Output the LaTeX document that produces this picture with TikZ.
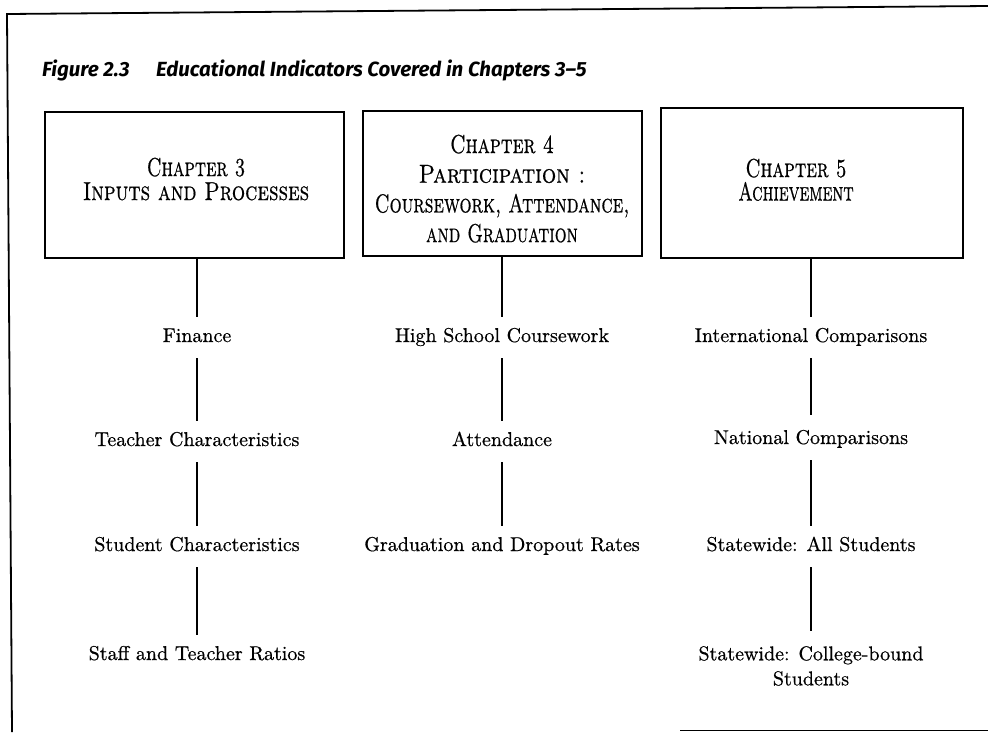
\documentclass[tikz,border=0pt]{standalone}
\usepackage{fontspec}
\newfontfamily\titlefont{Fira Sans}
\newfontfamily\heavyfont{lmroman10-regular.otf}[FakeBold=0.6, SmallCapsFont=lmromancaps10-regular.otf, SmallCapsFeatures={FakeBold=0.7}]
\begin{document}
\begin{tikzpicture}[x=1pt,y=-1pt,
  frameline/.style={line width=1.8pt},
  chapbox/.style={draw, line width=1.5pt, inner sep=0pt},
  head/.style={anchor=north, inner sep=0pt, align=center},
  item/.style={anchor=base, inner sep=0pt, text height=14pt, text depth=4pt, font=\heavyfont\fontsize{20}{24}\selectfont},
  item2/.style={anchor=north, inner sep=0pt, align=center, font=\heavyfont\fontsize{20}{25}\selectfont},
  conn/.style={line width=1.1pt}]
\useasboundingbox (0,0) rectangle (988,732);
% frame
\draw[frameline] (988,6) -- (7,14) -- (12,732);
\draw[frameline] (680,730.5) -- (988,730.5);
% title
\node[anchor=base west, inner sep=0pt, font=\titlefont\bfseries\itshape\fontsize{20.5}{24}\selectfont] (title) at (42,76) {Figure 2.3\hspace{1.3em}Educational Indicators Covered in Chapters 3–5};
% chapter boxes
\node[chapbox, minimum width=299pt, minimum height=146pt] (b1) at (194.5,185) {};
\node[chapbox, minimum width=279pt, minimum height=145pt] (b2) at (502.5,183.5) {};
\node[chapbox, minimum width=302pt, minimum height=150pt] (b3) at (812,183) {};
\node[head, font=\heavyfont\fontsize{26}{24}\selectfont\scshape] (h1) at (196,157.5)
  {\scalebox{0.72}[1]{Chapter 3}\\\scalebox{0.8}[1]{Inputs and Processes}};
\node[head, font=\heavyfont\fontsize{26}{29.7}\selectfont\scshape] (h2) at (502,134.5)
  {\scalebox{0.76}[1]{Chapter 4}\\\scalebox{0.86}[1]{Participation :}\\\scalebox{0.73}[1]{Coursework, Attendance,}\\\scalebox{0.71}[1]{and Graduation}};
\node[head, font=\heavyfont\fontsize{26}{23.5}\selectfont\scshape] (h3) at (796,158.5)
  {\scalebox{0.74}[1]{Chapter 5}\\\scalebox{0.68}[1]{Achievement}};
% items column 1
\node[item] (i11) at (197,342) {Finance};
\node[item] (i12) at (197,446) {Teacher Characteristics};
\node[item] (i13) at (197,551) {Student Characteristics};
\node[item] (i14) at (197,660) {Staff and Teacher Ratios};
% items column 2
\node[item] (i21) at (502,342) {High School Coursework};
\node[item] (i22) at (502,446) {Attendance};
\node[item] (i23) at (502,551) {Graduation and Dropout Rates};
% items column 3
\node[item] (i31) at (811,342) {International Comparisons};
\node[item] (i32) at (811,444) {National Comparisons};
\node[item] (i33) at (811,551) {Statewide: All Students};
\node[item2] (i34) at (811,646) {Statewide: College-bound\\Students};
% connectors
\draw[conn] (b1.south -| i11.north) -- ([yshift=11pt]i11.north);
\draw[conn] ([yshift=-12pt]i11.south) -- ([yshift=11pt]i12.north);
\draw[conn] ([yshift=-12pt]i12.south) -- ([yshift=11pt]i13.north);
\draw[conn] ([yshift=-12pt]i13.south) -- ([yshift=11pt]i14.north);
\draw[conn] (b2.south -| i21.north) -- ([yshift=11pt]i21.north);
\draw[conn] ([yshift=-12pt]i21.south) -- ([yshift=11pt]i22.north);
\draw[conn] ([yshift=-12pt]i22.south) -- ([yshift=11pt]i23.north);
\draw[conn] (b3.south -| i31.north) -- ([yshift=11pt]i31.north);
\draw[conn] ([yshift=-12pt]i31.south) -- ([yshift=15pt]i32.north);
\draw[conn] ([yshift=-12pt]i32.south) -- ([yshift=11pt]i33.north);
\draw[conn] ([yshift=-12pt]i33.south) -- ([yshift=15pt]i34.north);
\end{tikzpicture}
\end{document}
